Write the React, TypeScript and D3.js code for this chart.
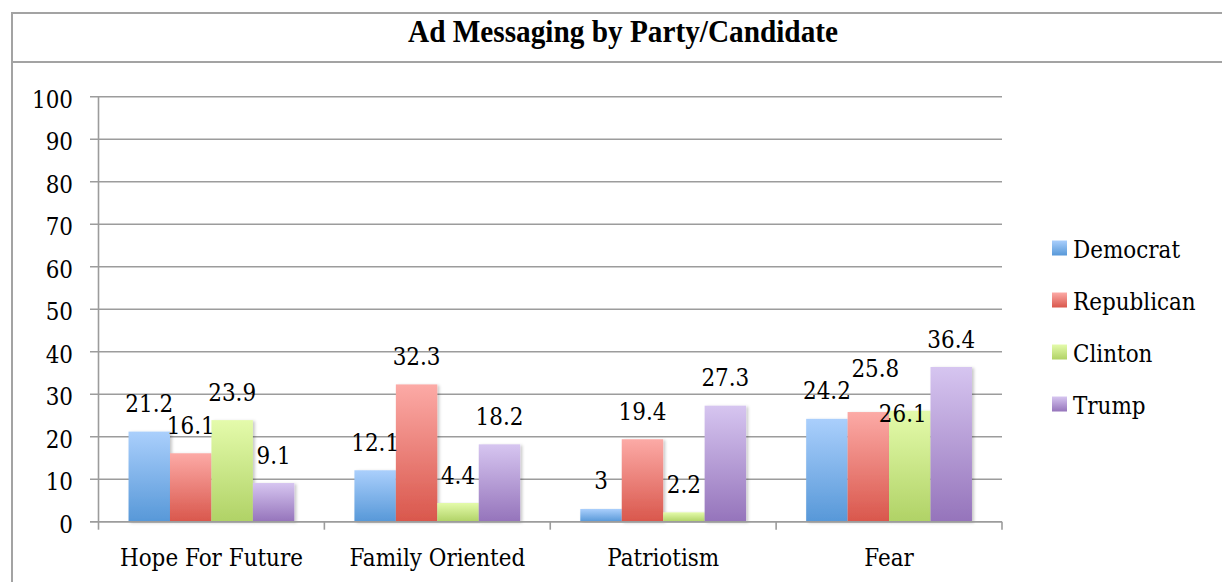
import React from "react";
import * as d3 from "d3";

const categories = ["Hope For Future", "Family Oriented", "Patriotism", "Fear"];
const seriesNames = ["Democrat", "Republican", "Clinton", "Trump"];
const democrat = [21.2, 12.1, 3, 24.2];
const republican = [16.1, 32.3, 19.4, 25.8];
const clinton = [23.9, 4.4, 2.2, 26.1];
const trump = [9.1, 18.2, 27.3, 36.4];
const yTicks = [0, 10, 20, 30, 40, 50, 60, 70, 80, 90, 100];
const title = "Ad Messaging by Party/Candidate";

const seriesValues = [democrat, republican, clinton, trump];
// [top colour, bottom colour] per series
const seriesColors: [string, string][] = [
  ["#aacffc", "#5798d8"],
  ["#fcaaa6", "#d9574c"],
  ["#e4fbab", "#b0d266"],
  ["#d6c5f0", "#9574bb"],
];
// Pixel nudges for data labels that Excel moved to avoid overlap
const labelNudges: Record<string, [number, number]> = {
  "Fear|Republican": [7, -16],
  "Fear|Clinton": [-7, 31],
};

const W = 1222;
const H = 582;
const plotLeft = 98.5;
const plotRight = 1002;
const plotTop = 96.7;
const plotBottom = 521.7;
const font = "'DejaVu Serif', serif";
const gridColor = "#9c9c9c";

function T({ x, y, anchor = "start", children }: { x: number; y: number; anchor?: string; children: React.ReactNode }) {
  return (
    <g transform={`translate(${x},${y}) scale(1,1.1)`}>
      <text x={0} y={0} textAnchor={anchor} fontFamily={font} fontSize={21.5} fill="#000">
        {children}
      </text>
    </g>
  );
}

export default function App() {
  const x = d3
    .scaleBand<string>()
    .domain(categories)
    .range([plotLeft, plotRight])
    .paddingInner(0.266)
    .paddingOuter(0.133);
  const x1 = d3
    .scaleBand<string>()
    .domain(seriesNames)
    .range([0, x.bandwidth()])
    .padding(0);
  const y = d3.scaleLinear().domain([0, 100]).range([plotBottom, plotTop]);
  const step = x.step();
  const boundaries = d3.range(categories.length + 1).map((i) => plotLeft + i * step);

  return (
    <div style={{ position: "fixed", left: 0, top: 0 }}>
      <svg width={W} height={H} style={{ display: "block", background: "#fff" }}>
        <defs>
          {seriesColors.map((c, i) => (
            <linearGradient key={i} id={`g${i}`} x1="0" y1="0" x2="0" y2="1">
              <stop offset="0%" stopColor={c[0]} />
              <stop offset="100%" stopColor={c[1]} />
            </linearGradient>
          ))}
          <filter id="shadow" x="-20%" y="-5%" width="150%" height="115%">
            <feDropShadow dx="2" dy="1" stdDeviation="1.6" floodColor="#000" floodOpacity="0.22" />
          </filter>
        </defs>

        {/* outer frame */}
        <rect x={12} y={13} width={1400} height={800} fill="none" stroke="#a3a3a3" strokeWidth={2} />
        <line x1={12} x2={W} y1={62} y2={62} stroke="#a3a3a3" strokeWidth={2} />
        <text
          x={623}
          y={41.5}
          textAnchor="middle"
          fontFamily="'Liberation Serif', 'Times New Roman', serif"
          fontWeight="bold"
          fontSize={31}
          textLength={430}
          lengthAdjust="spacingAndGlyphs"
          fill="#000"
        >
          {title}
        </text>

        {/* gridlines and y ticks */}
        {yTicks.map((t) => (
          <g key={t}>
            <line x1={90} x2={plotRight} y1={y(t)} y2={y(t)} stroke={gridColor} strokeWidth={1.6} />
            <T x={73} y={y(t) + 11} anchor="end">
              {t}
            </T>
          </g>
        ))}
        {/* y axis */}
        <line x1={plotLeft} x2={plotLeft} y1={plotTop} y2={plotBottom} stroke={gridColor} strokeWidth={1.6} />
        {/* x axis tick marks */}
        {boundaries.map((b, i) => (
          <line key={i} x1={b} x2={b} y1={plotBottom} y2={plotBottom + 8} stroke={gridColor} strokeWidth={1.6} />
        ))}

        {/* bars */}
        {categories.map((cat, ci) => (
          <g key={cat}>
            {seriesNames.map((s, si) => {
              const v = seriesValues[si][ci];
              return (
                <rect
                  key={s}
                  x={(x(cat) as number) + (x1(s) as number)}
                  y={y(v)}
                  width={x1.bandwidth()}
                  height={y(0) - y(v)}
                  fill={`url(#g${si})`}
                  filter="url(#shadow)"
                />
              );
            })}
          </g>
        ))}
        {/* redraw axis baseline on top */}
        <line x1={90} x2={plotRight} y1={plotBottom} y2={plotBottom} stroke={gridColor} strokeWidth={1.6} />

        {/* data labels */}
        {categories.map((cat, ci) =>
          seriesNames.map((s, si) => {
            const v = seriesValues[si][ci];
            const n = labelNudges[`${cat}|${s}`] || [0, 0];
            return (
              <T
                key={`${cat}-${s}`}
                x={(x(cat) as number) + (x1(s) as number) + x1.bandwidth() / 2 + n[0]}
                y={y(v) - 19.5 + n[1]}
                anchor="middle"
              >
                {v}
              </T>
            );
          })
        )}

        {/* category labels */}
        {categories.map((cat) => (
          <T key={cat} x={(x(cat) as number) + x.bandwidth() / 2} y={565.5} anchor="middle">
            {cat}
          </T>
        ))}

        {/* legend */}
        {seriesNames.map((s, si) => {
          const cy = 248 + si * 52;
          return (
            <g key={s}>
              <rect x={1052} y={cy - 7.5} width={15} height={15} fill={`url(#g${si})`} />
              <T x={1073} y={cy + 9.5}>
                {s}
              </T>
            </g>
          );
        })}
      </svg>
    </div>
  );
}
